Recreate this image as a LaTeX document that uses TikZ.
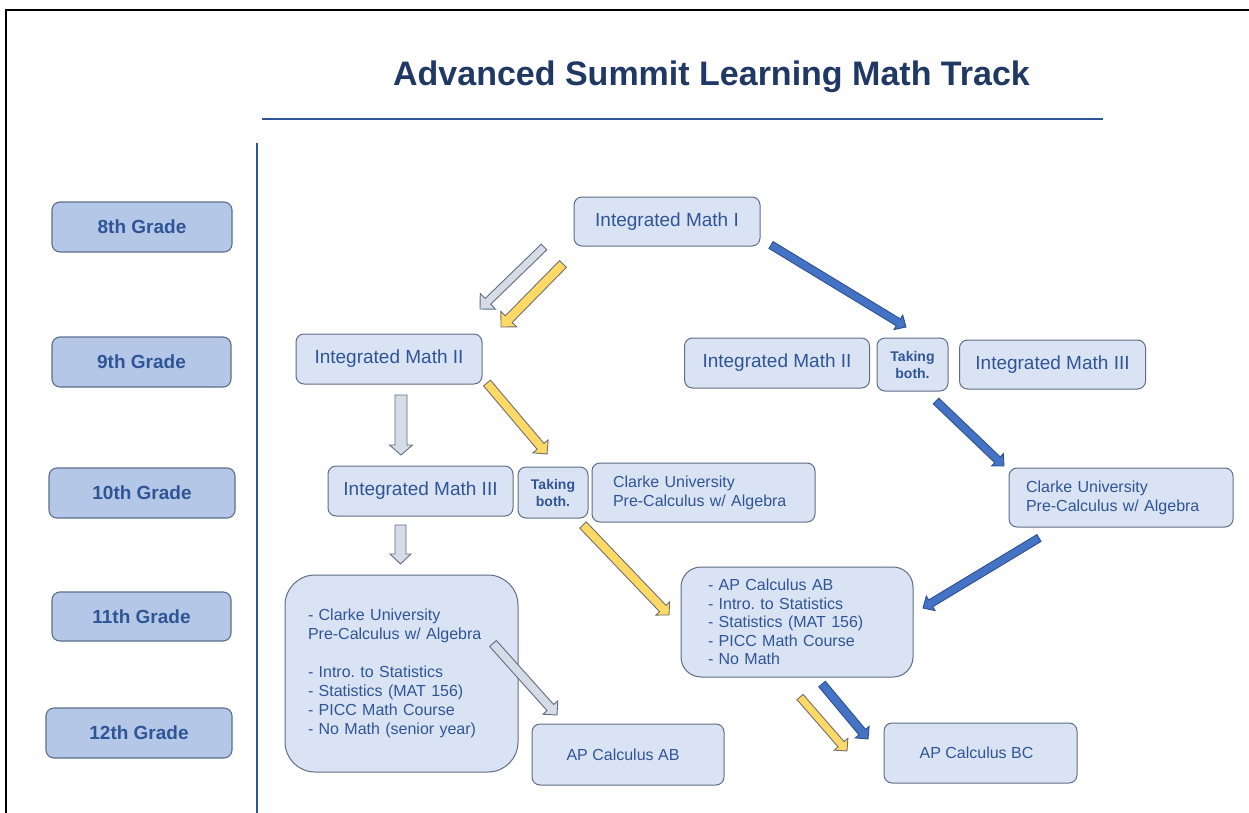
\documentclass[tikz,border=0pt]{standalone}
\usepackage{fontspec}
\setmainfont{Liberation Sans}
\usetikzlibrary{calc}
\frenchspacing
\definecolor{gradefill}{HTML}{B4C7E7}
\definecolor{gradeborder}{HTML}{5B6F8F}
\definecolor{coursefill}{HTML}{DAE3F3}
\definecolor{courseborder}{HTML}{5F6E85}
\definecolor{textblue}{HTML}{2F5597}
\definecolor{titleblue}{HTML}{1F3864}
\definecolor{lineblue}{HTML}{2F5597}
\definecolor{arrgray}{HTML}{D6DCE5}
\definecolor{arrgrayb}{HTML}{5D6D86}
\definecolor{arryellow}{HTML}{FFD966}
\definecolor{arryellowb}{HTML}{6F6F6F}
\definecolor{arrblue}{HTML}{4472C4}
\definecolor{arrblueb}{HTML}{2F528F}
% #1 style, #2 tail, #3 tip, #4 half shaft, #5 half head, #6 head length
\newcommand\blockarrow[6]{%
  \coordinate (bap) at ($(#3)!#6!(#2)$);
  \draw[#1] ($(#2)!#4!90:(#3)$) -- ($(bap)!#4!90:(#3)$) -- ($(bap)!#5!90:(#3)$) -- (#3)
    -- ($(bap)!#5!-90:(#3)$) -- ($(bap)!#4!-90:(#3)$) -- ($(#2)!#4!-90:(#3)$) -- cycle;
}
\begin{document}
\begin{tikzpicture}[x=1pt,y=-1pt,
  grade/.style={draw=gradeborder, fill=gradefill, rounded corners=8pt, line width=1.1pt,
    text=textblue, font=\fontsize{19}{22}\selectfont\bfseries, inner sep=0pt},
  course/.style={draw=courseborder, fill=coursefill, rounded corners=8pt, line width=1pt,
    text=textblue, font=\fontsize{19}{22}\selectfont, inner sep=0pt},
  both/.style={course, font=\fontsize{14}{17}\selectfont\bfseries, align=center},
  listbox/.style={course, font=\fontsize{16}{19}\selectfont, align=left, inner ysep=0pt},
  grayarrow/.style={fill=arrgray, draw=arrgrayb, line width=0.9pt, line join=miter},
  yellowarrow/.style={fill=arryellow, draw=arryellowb, line width=0.9pt, line join=miter},
  bluearrow/.style={fill=arrblue, draw=arrblueb, line width=0.9pt, line join=miter}]
\useasboundingbox (0,0) rectangle (1249,813);
\fill[white] (0,0) rectangle (1249,813);
% frame
\draw[black, line width=2.8pt] (6,813) -- (6,10) -- (1249,10);
% title
\node[anchor=base, text=titleblue, font=\fontsize{34}{37}\selectfont\bfseries] (title) at (711.5,86) {Advanced Summit Learning Math Track};
\draw[lineblue, line width=2pt] (262,119) -- (1103,119);
\draw[lineblue, line width=1.8pt] (257,143) -- (257,813);
% grade labels
\node[grade, minimum width=180, minimum height=50] (g8) at (142,227) {8th Grade};
\node[grade, minimum width=179, minimum height=50] (g9) at (141.5,362) {9th Grade};
\node[grade, minimum width=186, minimum height=50] (g10) at (142,493) {10th Grade};
\node[grade, minimum width=179, minimum height=49] (g11) at (141.5,616.5) {11th Grade};
\node[grade, minimum width=186, minimum height=50] (g12) at (139,733) {12th Grade};
% courses
\node[course, minimum width=186, minimum height=49] (im1) at (667,221.5) {Integrated Math I};
\node[course, minimum width=186, minimum height=50] (im2l) at (389,359) {Integrated Math II};
\node[course, minimum width=185, minimum height=50] (im3l) at (420.5,491) {Integrated Math III};
\node[both, minimum width=70, minimum height=51] (tbl) at (553,492.5) {Taking\\both.};
\node[listbox, text width=181, inner xsep=21, minimum height=59] (cul) at (703.5,492.5) {Clarke University\\Pre-Calculus w/ Algebra};
\node[course, minimum width=185, minimum height=50] (im2r) at (777,363) {Integrated Math II};
\node[both, minimum width=71, minimum height=53] (tbr) at (912.5,364.5) {Taking\\both.};
\node[course, minimum width=186, minimum height=49] (im3r) at (1052.5,364.5) {Integrated Math III};
\node[listbox, text width=190, inner xsep=17, minimum height=59] (cur) at (1121,497.5) {Clarke University\\Pre-Calculus w/ Algebra};
\node[listbox, rounded corners=30pt, text width=187, inner xsep=23, minimum height=197] (big) at (401.5,673.5)
  {- Clarke University\\Pre-Calculus w/ Algebra\\[19pt]- Intro. to Statistics\\- Statistics (MAT 156)\\- PICC Math Course\\- No Math (senior year)};
\node[listbox, rounded corners=20pt, text width=178, inner xsep=27, minimum height=110, font=\fontsize{16}{18.5}\selectfont] (mid) at (797,622)
  {- AP Calculus AB\\- Intro. to Statistics\\- Statistics (MAT 156)\\- PICC Math Course\\- No Math};
\node[course, minimum width=192, minimum height=61, font=\fontsize{16}{19}\selectfont] (apab) at (628,754.5) {\hspace*{-10pt}AP Calculus AB};
\node[course, minimum width=193, minimum height=60, font=\fontsize{16}{19}\selectfont] (apbc) at (980.5,753) {\hspace*{-8pt}AP Calculus BC};
% arrow end points
\coordinate (a1s) at (544,247);   \coordinate (a1e) at (480,309);
\coordinate (a2s) at (563,264);   \coordinate (a2e) at (501,327);
\coordinate (a3s) at (401,395);   \coordinate (a3e) at (401,455);
\coordinate (a4s) at (487,383);   \coordinate (a4e) at (547,454);
\coordinate (a5s) at (400.5,525); \coordinate (a5e) at (400.5,564);
\coordinate (a6s) at (493,643.5); \coordinate (a6e) at (557,715);
\coordinate (a7s) at (583,525);   \coordinate (a7e) at (669,615);
\coordinate (a8s) at (771,245);   \coordinate (a8e) at (906,327);
\coordinate (a9s) at (936,401);   \coordinate (a9e) at (1004,466);
\coordinate (a10s) at (1039,538); \coordinate (a10e) at (923,608);
\coordinate (a11s) at (800,697);  \coordinate (a11e) at (847,751);
\coordinate (a12s) at (822,684);  \coordinate (a12e) at (868,739);
% arrows
\blockarrow{grayarrow}{a1s}{a1e}{4pt}{11pt}{11pt}
\blockarrow{yellowarrow}{a2s}{a2e}{4.8pt}{11pt}{11pt}
\blockarrow{grayarrow}{a3s}{a3e}{6pt}{11.5pt}{10pt}
\blockarrow{yellowarrow}{a4s}{a4e}{4.5pt}{10pt}{10pt}
\blockarrow{grayarrow}{a5s}{a5e}{5.5pt}{10.5pt}{10pt}
\blockarrow{grayarrow}{a6s}{a6e}{4.5pt}{10pt}{10pt}
\blockarrow{yellowarrow}{a7s}{a7e}{4.5pt}{9.5pt}{9pt}
\blockarrow{bluearrow}{a8s}{a8e}{4pt}{8.5pt}{9pt}
\blockarrow{bluearrow}{a9s}{a9e}{4pt}{8.5pt}{9pt}
\blockarrow{bluearrow}{a10s}{a10e}{4pt}{8.5pt}{9pt}
\blockarrow{yellowarrow}{a11s}{a11e}{4pt}{9pt}{9pt}
\blockarrow{bluearrow}{a12s}{a12e}{4.3pt}{9pt}{9pt}
\end{tikzpicture}
\end{document}
